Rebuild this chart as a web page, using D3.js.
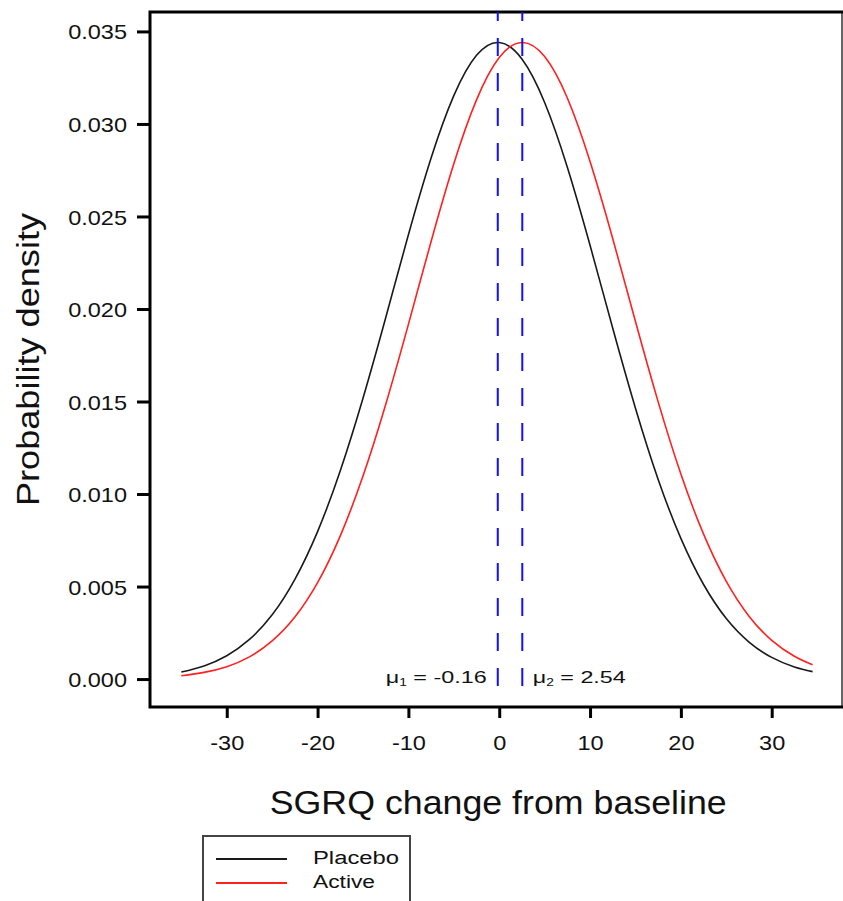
<!DOCTYPE html>
<html lang="en">
  <head>
    <meta charset="utf-8" />
    <style>
      body { margin: 0; background: #fff; }
      text { font-family: "Liberation Sans", Arial, sans-serif; fill: #111; }
    </style>
  </head>
  <body>
    <script src="https://d3js.org/d3.v7.min.js"></script>
    <script>
      // values
      var xValues = [-35, -32.5, -30, -27.5, -25, -22.5, -20, -17.5, -15, -12.5, -10, -7.5, -5, -2.5,
        0, 2.5, 5, 7.5, 10, 12.5, 15, 17.5, 20, 22.5, 25, 27.5, 30, 32.5, 34.5];
      var placebo = [0.00038, 0.00071, 0.00126, 0.00214, 0.00347, 0.00539, 0.00797, 0.01126, 0.01518,
        0.01953, 0.02401, 0.02816, 0.03153, 0.03371, 0.03440, 0.03351, 0.03116, 0.02766, 0.02344,
        0.01896, 0.01464, 0.01079, 0.00760, 0.00511, 0.00327, 0.00200, 0.00117, 0.00065, 0.00040];
      var active = [0.00018, 0.00036, 0.00067, 0.00120, 0.00206, 0.00335, 0.00521, 0.00774, 0.01097,
        0.01484, 0.01917, 0.02365, 0.02785, 0.03130, 0.03359, 0.03440, 0.03364, 0.03140, 0.02797,
        0.02380, 0.01932, 0.01498, 0.01108, 0.00783, 0.00528, 0.00340, 0.00209, 0.00123, 0.00077];
      var means = [-0.16, 2.54];
      var meanText = [" = -0.16", " = 2.54"];
      var yTicks = [0, 0.005, 0.01, 0.015, 0.02, 0.025, 0.03, 0.035];
      var xTicks = [-30, -20, -10, 0, 10, 20, 30];
      var seriesNames = ["Placebo", "Active"];
      var seriesColors = ["#1a1a1a", "#ff2020"];

      var width = 843, height = 901;
      var svg = d3.select("body").append("svg")
        .attr("width", width)
        .attr("height", height);

      var plotLeft = 150, plotRight = 842, plotTop = 12, plotBottom = 707;
      var x = d3.scaleLinear().domain([-38.45, 37.74]).range([plotLeft, plotRight]);
      var y = d3.scaleLinear().domain([-0.00151, 0.03605]).range([plotBottom, plotTop]);

      // stretch text a little wider, like the original
      function stretch(sel, k) {
        sel.each(function () {
          var w = this.getComputedTextLength();
          d3.select(this).attr("textLength", w * k).attr("lengthAdjust", "spacingAndGlyphs");
        });
      }

      // y axis
      var yAxis = svg.append("g")
        .attr("transform", "translate(" + plotLeft + ",0)")
        .call(d3.axisLeft(y).tickValues(yTicks).tickFormat(d3.format(".3f")).tickSize(13).tickSizeOuter(0));
      yAxis.select(".domain").remove();
      yAxis.selectAll(".tick line").attr("stroke", "#000").attr("stroke-width", 3);
      yAxis.selectAll(".tick text")
        .attr("x", -23).attr("dy", "0.36em")
        .style("font-size", "21px").attr("fill", "#111")
        .call(stretch, 1.12);

      // x axis
      var xAxis = svg.append("g")
        .attr("transform", "translate(0," + plotBottom + ")")
        .call(d3.axisBottom(x).tickValues(xTicks).tickFormat(function (d) { return String(d); })
          .tickSize(11).tickSizeOuter(0));
      xAxis.select(".domain").remove();
      xAxis.selectAll(".tick line").attr("stroke", "#000").attr("stroke-width", 3);
      xAxis.selectAll(".tick text")
        .attr("y", 43).attr("dy", 0)
        .style("font-size", "21px").attr("fill", "#111")
        .call(stretch, 1.12);

      // frame
      svg.append("line")
        .attr("x1", plotRight).attr("x2", plotRight).attr("y1", plotTop).attr("y2", plotBottom)
        .attr("stroke", "#333").attr("stroke-width", 1.5);
      svg.append("path")
        .attr("d", "M" + width + "," + plotTop + "H" + plotLeft + "V" + plotBottom + "H" + width)
        .attr("fill", "none").attr("stroke", "#000").attr("stroke-width", 3);

      // curves
      var line = d3.line()
        .x(function (d) { return x(d[0]); })
        .y(function (d) { return y(d[1]); })
        .curve(d3.curveNatural);
      [placebo, active].forEach(function (vals, i) {
        svg.append("path")
          .datum(d3.zip(xValues, vals))
          .attr("d", line)
          .attr("fill", "none")
          .attr("stroke", seriesColors[i])
          .attr("stroke-width", 1.6);
      });

      // mean lines
      svg.selectAll(".mean")
        .data(means)
        .join("line")
        .attr("class", "mean")
        .attr("x1", function (d) { return x(d); })
        .attr("x2", function (d) { return x(d); })
        .attr("y1", y.range()[1])
        .attr("y2", y(-0.00062))
        .attr("stroke", "#1010ff")
        .attr("stroke-width", 2)
        .attr("stroke-dasharray", "18,17")
        .attr("stroke-dashoffset", 9);

      // mean labels
      means.forEach(function (m, i) {
        var t = svg.append("text")
          .attr("x", i === 0 ? x(m) - 11 : x(m) + 10.5)
          .attr("y", plotBottom - 24)
          .attr("text-anchor", i === 0 ? "end" : "start")
          .style("font-size", "17px")
          .attr("fill", "#333");
        t.append("tspan").text("\u03bc");
        t.append("tspan").text(i + 1).style("font-size", "10px").attr("dy", 3);
        t.append("tspan").text(meanText[i]).attr("dy", -3);
        t.attr("textLength", i === 0 ? 101 : 93).attr("lengthAdjust", "spacingAndGlyphs");
      });

      // axis titles
      svg.append("text")
        .attr("x", x(0) - 1)
        .attr("y", 814)
        .attr("text-anchor", "middle")
        .style("font-size", "33px")
        .attr("fill", "#1a1a1a")
        .text("SGRQ change from baseline")
        .attr("textLength", 457).attr("lengthAdjust", "spacingAndGlyphs");

      svg.append("text")
        .attr("transform", "translate(38.5," + (plotTop + plotBottom) / 2 + ") rotate(-90)")
        .attr("text-anchor", "middle")
        .style("font-size", "32px")
        .attr("fill", "#1a1a1a")
        .text("Probability density")
        .attr("textLength", 293).attr("lengthAdjust", "spacingAndGlyphs");

      // legend
      var legend = svg.append("g").attr("transform", "translate(203,836)");
      legend.append("rect")
        .attr("width", 207).attr("height", 90)
        .attr("fill", "#fff").attr("stroke", "#444").attr("stroke-width", 2);
      seriesNames.forEach(function (name, i) {
        legend.append("line")
          .attr("x1", 13).attr("x2", 84)
          .attr("y1", 23 + i * 24).attr("y2", 23 + i * 24)
          .attr("stroke", seriesColors[i]).attr("stroke-width", 2);
        legend.append("text")
          .attr("x", 110).attr("y", 28 + i * 24)
          .style("font-size", "18px")
          .text(name)
          .attr("textLength", i === 0 ? 86 : 62).attr("lengthAdjust", "spacingAndGlyphs");
      });
    </script>
  </body>
</html>
